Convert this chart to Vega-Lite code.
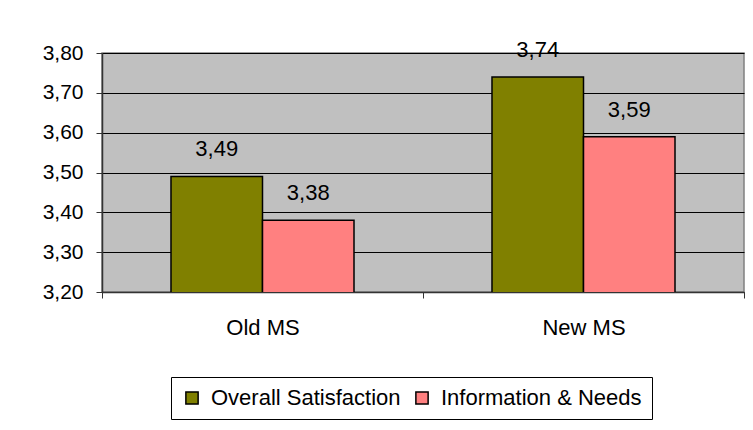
{
  "$schema": "https://vega.github.io/schema/vega-lite/v6.json",
  "width": 642,
  "height": 239,
  "autosize": {"type": "none"},
  "padding": {"left": 102, "top": 53, "right": 9, "bottom": 138},
  "background": "white",
  "config": {
    "locale": {"number": {"decimal": ",", "thousands": ".", "grouping": [3], "currency": ["", " €"]}},
    "font": "Liberation Sans",
    "view": {"fill": "#C0C0C0", "stroke": "#808080", "strokeWidth": 1.5},
    "axis": {"labelFont": "Liberation Sans", "labelFontSize": 21, "labelColor": "black", "tickColor": "#333333", "domainColor": "#333333"}
  },
  "data": {
    "values": [
      {"group": "Old MS", "series": "Overall Satisfaction", "value": 3.49},
      {"group": "Old MS", "series": "Information & Needs", "value": 3.38},
      {"group": "New MS", "series": "Overall Satisfaction", "value": 3.74},
      {"group": "New MS", "series": "Information & Needs", "value": 3.59}
    ]
  },
  "encoding": {
    "x": {
      "field": "group", "type": "nominal", "sort": ["Old MS", "New MS"],
      "scale": {"paddingInner": 0, "paddingOuter": 0},
      "axis": {"title": null, "labelAngle": 0, "labelFontSize": 22, "tickBand": "extent", "tickSize": 6, "labelPadding": 19, "domainWidth": 1.5, "grid": false}
    },
    "xOffset": {
      "field": "series", "type": "nominal", "sort": ["Overall Satisfaction", "Information & Needs"],
      "scale": {"paddingInner": 0, "paddingOuter": 0.754}
    },
    "y": {
      "field": "value", "type": "quantitative",
      "scale": {"domain": [3.2, 3.8], "zero": false, "nice": false},
      "axis": {"title": null, "values": [3.2, 3.3, 3.4, 3.5, 3.6, 3.7, 3.8], "format": ".2f", "grid": true, "gridColor": "black", "gridOpacity": 1, "gridWidth": 1, "tickSize": 6, "labelPadding": 13, "domainWidth": 1.5}
    }
  },
  "layer": [
    {
      "mark": {"type": "bar", "stroke": "black", "strokeWidth": 1.5, "clip": true},
      "encoding": {
        "color": {
          "field": "series", "type": "nominal",
          "scale": {"domain": ["Overall Satisfaction", "Information & Needs"], "range": ["#808000", "#FF8080"]},
          "legend": {
            "title": null, "orient": "none", "legendX": 69, "legendY": 324, "direction": "horizontal",
            "strokeColor": "black", "fillColor": "white", "padding": 10,
            "symbolType": "square", "symbolSize": 150, "symbolStrokeColor": "black", "symbolStrokeWidth": 1.5, "symbolOpacity": 1,
            "labelFont": "Liberation Sans", "labelFontSize": 22, "labelColor": "black", "labelOffset": 8, "columnPadding": 10, "labelLimit": 400
          }
        }
      }
    },
    {
      "mark": {"type": "text", "baseline": "middle", "align": "center", "dy": -27, "font": "Liberation Sans", "fontSize": 22, "color": "black", "clip": false},
      "encoding": {
        "text": {"field": "value", "type": "quantitative", "format": ".2f"}
      }
    }
  ]
}
